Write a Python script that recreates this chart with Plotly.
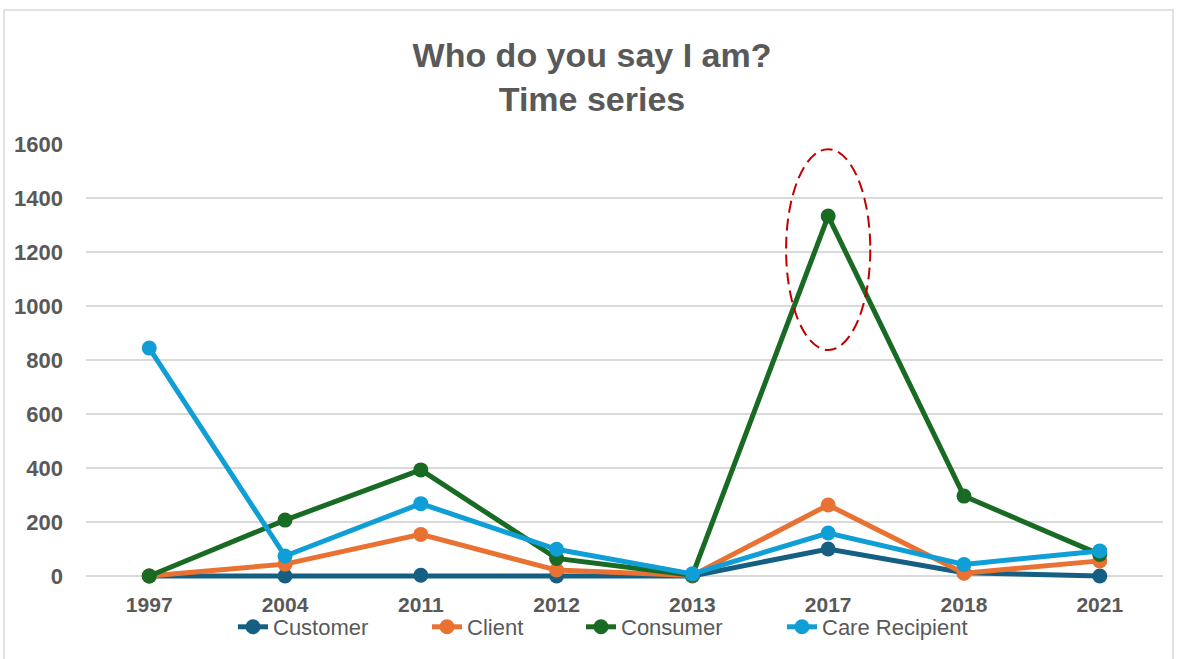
import plotly.graph_objects as go

# Years on the category axis
years = ["1997", "2004", "2011", "2012", "2013", "2017", "2018", "2021"]

# Term usage counts per year
customer = [0, 0, 3, 0, 0, 100, 12, 0]
client = [0, 44, 154, 22, 2, 263, 10, 56]
consumer = [0, 207, 393, 65, 3, 1333, 296, 80]
care_recipient = [844, 74, 268, 99, 8, 159, 43, 93]

y_ticks = [0, 200, 400, 600, 800, 1000, 1200, 1400, 1600]

series = [
    ("Customer", customer, "#156082"),
    ("Client", client, "#E97132"),
    ("Consumer", consumer, "#196B24"),
    ("Care Recipient", care_recipient, "#0F9ED5"),
]

FONT = "Liberation Sans, Arial, sans-serif"
GREY = "#595959"

# Pixel geometry of the plotting area
W, H = 1177, 659
ML, MR, MT, MB = 86, 14, 144, 78
PW = W - ML - MR
PH = H - MT - MB
Y_MAX = 1600
Y_MIN = Y_MAX - PH * Y_MAX / (576 - MT)  # keeps 0 at the same baseline, room for line width


def px_to_paper_x(px):
    return (px - ML) / PW


def px_to_paper_y(py):
    return (H - MB - py) / PH


fig = go.Figure()
legend_ids = ["legend", "legend2", "legend3", "legend4"]
for (name, vals, color), lg in zip(series, legend_ids):
    fig.add_trace(go.Scatter(
        x=years, y=vals, name=name, mode="lines+markers",
        line=dict(color=color, width=5),
        marker=dict(color=color, size=15),
        cliponaxis=False, legend=lg,
    ))

# Dashed ellipse highlighting the 2017 consumer spike
fig.add_shape(
    type="circle", xref="x", yref="y",
    x0=4.69, x1=5.31, y0=837, y1=1581,
    line=dict(color="#C00000", width=2, dash="12px,6px"),
    layer="above",
)

# Chart frame
fig.add_shape(
    type="rect", xref="paper", yref="paper",
    x0=px_to_paper_x(4), x1=px_to_paper_x(1173),
    y0=px_to_paper_y(680), y1=px_to_paper_y(10),
    line=dict(color="#D9D9D9", width=1.5),
    layer="below",
)

# One legend per series so each entry sits at its own position
legend_text_x = [276, 470, 624, 825]
legend_cfg = {}
for lg, tx in zip(legend_ids, legend_text_x):
    legend_cfg[lg] = dict(
        orientation="h", x=px_to_paper_x(tx - 43), xanchor="left",
        y=px_to_paper_y(627), yanchor="middle",
        font=dict(family=FONT, size=22, color=GREY),
        bgcolor="rgba(0,0,0,0)",
    )

fig.update_layout(
    width=W, height=H,
    margin=dict(l=ML, r=MR, t=MT, b=MB, autoexpand=False),
    paper_bgcolor="white", plot_bgcolor="white",
    font=dict(family=FONT, color=GREY),
    title=dict(
        text="<b>Who do you say I am?<br>Time series</b>",
        x=0.503, xanchor="center", xref="container",
        y=1 - 67 / H, yanchor="top", yref="container",
        font=dict(family=FONT, size=34, color=GREY),
    ),
    xaxis=dict(
        type="category", showgrid=False, zeroline=False, showline=False,
        tickfont=dict(family=FONT, size=21, color=GREY, weight="bold"),
        ticks="", ticklabelstandoff=9,
    ),
    yaxis=dict(
        range=[Y_MIN, Y_MAX], tickvals=y_ticks, showgrid=True,
        gridcolor="#D9D9D9", gridwidth=1.5, zeroline=False, showline=False,
        tickfont=dict(family=FONT, size=22, color=GREY, weight="bold"),
        ticks="", ticklabelstandoff=22,
    ),
    showlegend=True,
    **legend_cfg,
)

fig.write_html("out.html")
